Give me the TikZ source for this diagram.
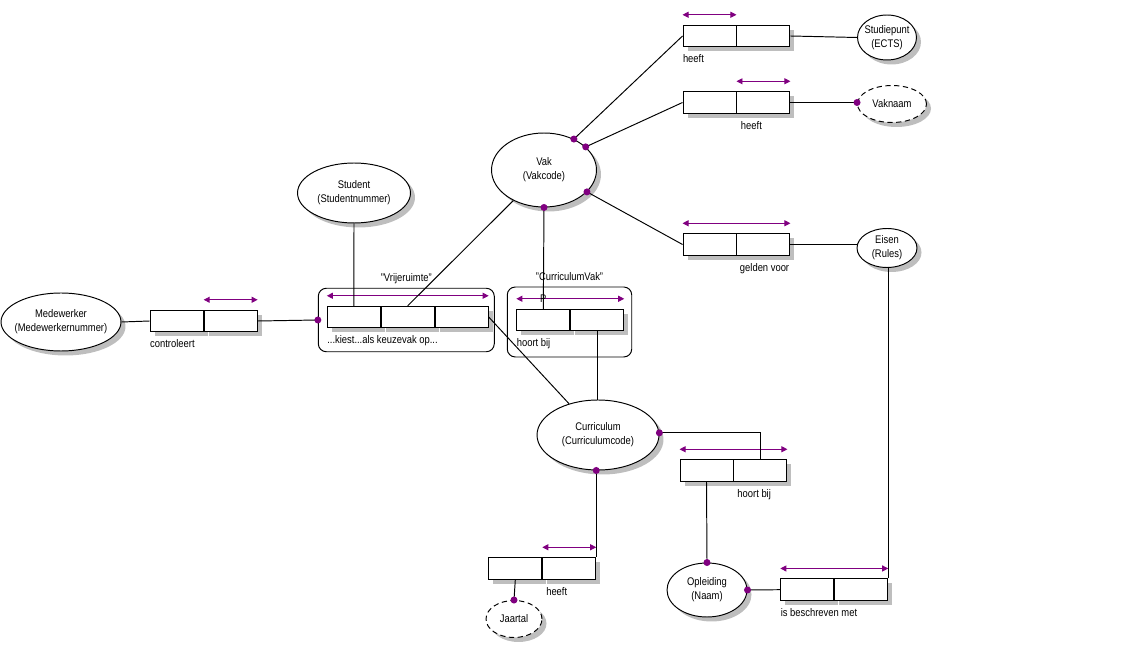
\documentclass[tikz,border=0pt]{standalone}
\usepackage{fontspec}
\setmainfont{Liberation Sans}[FakeStretch=0.85]
\usepackage{xcolor}
\usepackage{tikz}
\usetikzlibrary{positioning,shapes.geometric,shadows,arrows.meta}
\definecolor{paars}{HTML}{800080}
\definecolor{schaduw}{HTML}{BEBEBE}
\newcommand{\ormfont}{\fontsize{6.3}{8}\selectfont}
\tikzset{
  schaduw/.style={drop shadow={shadow xshift=0.09cm, shadow yshift=-0.09cm, fill=schaduw, opacity=1}},
  entiteit/.style={ellipse, draw, fill=white, schaduw, align=center, inner xsep=-0.25cm, inner ysep=0pt, font=\ormfont},
  waarde/.style={entiteit, dash pattern=on 3pt off 2pt},
  rol/.style={draw, fill=white, schaduw, minimum width=1.06cm, minimum height=0.43cm, inner sep=0pt},
  kader/.style={draw, rounded corners=0.16cm, inner sep=0pt},
  uniek/.style={paars, {Triangle[length=0.12cm,width=0.12cm]}-{Triangle[length=0.12cm,width=0.12cm]}},
  stip/.style={paars},
  tekst/.style={font=\ormfont, inner sep=0pt}
}

\begin{document}
\begin{tikzpicture}[x=0.02cm, y=-0.02cm, line width=0.55pt]
        \useasboundingbox (0,0) rectangle (1139,668);
        \def\hoog{0.2cm}
        \def\onder{0.31cm}
        % Entiteiten
        \node[entiteit, minimum width=2.4cm, minimum height=1.16cm] (medewerker) at (61,322) {Medewerker\\(Medewerkernummer)};
        \node[entiteit, minimum width=2.26cm, minimum height=1.2cm] (student) at (354,193) {Student\\(Studentnummer)};
        \node[entiteit, minimum width=2.1cm, minimum height=1.48cm] (vak) at (544,170) {Vak\\(Vakcode)};
        \node[entiteit, minimum width=1.18cm, minimum height=0.9cm] (studiepunt) at (887,37.5) {Studiepunt\\(ECTS)};
        \node[waarde, minimum width=1.38cm, minimum height=0.74cm] (vaknaam) at (892,104) {Vaknaam};
        \node[entiteit, minimum width=1.2cm, minimum height=0.78cm] (eisen) at (887,248) {Eisen\\(Rules)};
        \node[entiteit, minimum width=2.44cm, minimum height=1.4cm] (curriculum) at (598,435) {Curriculum\\(Curriculumcode)};
        \node[entiteit, minimum width=1.6cm, minimum height=1.08cm] (opleiding) at (707,590) {Opleiding\\(Naam)};
        \node[waarde, minimum width=1.12cm, minimum height=0.74cm] (jaartal) at (514,619) {Jaartal};

        % Objectificaties
        \node[kader, minimum width=3.52cm, minimum height=1.27cm] (vrij) at (406.3,320) {};
        \node[tekst, anchor=base] (lvrij) at ([yshift=0.12cm]vrij.north) {"Vrijeruimte"};
        \node[kader, minimum width=2.49cm, minimum height=1.4cm] (cvk) at (569.5,322) {};
        \node[tekst, anchor=base] (lcvk) at ([yshift=0.12cm]cvk.north) {"CurriculumVak"};

        % Feittypen (rollen)
        \node[rol] (c1) at (176.7,321) {};
        \node[rol, right=0pt of c1] (c2) {};
        \node[rol] (h11) at (709.5,36) {};
        \node[rol, right=0pt of h11] (h12) {};
        \node[rol] (h21) at (709.5,102.5) {};
        \node[rol, right=0pt of h21] (h22) {};
        \node[rol] (g1) at (709.5,244.5) {};
        \node[rol, right=0pt of g1] (g2) {};
        \node[rol] (vr1) at (353.8,317) {};
        \node[rol, right=0pt of vr1] (vr2) {};
        \node[rol, right=0pt of vr2] (vr3) {};
        \node[rol] (cv1) at (543.3,320) {};
        \node[rol, right=0pt of cv1] (cv2) {};
        \node[rol] (hb1) at (706.5,470.5) {};
        \node[rol, right=0pt of hb1] (hb2) {};
        \node[rol] (jh1) at (515.3,568.5) {};
        \node[rol, right=0pt of jh1] (jh2) {};
        \node[rol] (bm1) at (807.3,589.7) {};
        \node[rol, right=0pt of bm1] (bm2) {};

        % Namen van de feittypen
        \node[tekst, anchor=base west] (lc) at ([yshift=-\onder]c1.south west) {controleert};
        \node[tekst, anchor=base west] (lh1) at ([yshift=-\onder]h11.south west) {heeft};
        \node[tekst, anchor=base west] (lh2) at ([xshift=0.08cm, yshift=-\onder]h22.south west) {heeft};
        \node[tekst, anchor=base west] (lg) at ([xshift=0.06cm, yshift=-\onder]g2.south west) {gelden voor};
        \node[tekst, anchor=base west] (lvr) at ([yshift=-\onder]vr1.south west) {...kiest...als keuzevak op...};
        \node[tekst, anchor=base west] (lcv) at ([yshift=-\onder]cv1.south west) {hoort bij};
        \node[tekst, anchor=base west] (lhb) at ([xshift=0.07cm, yshift=-\onder]hb2.south west) {hoort bij};
        \node[tekst, anchor=base west] (ljh) at ([xshift=0.07cm, yshift=-\onder]jh2.south west) {heeft};
        \node[tekst, anchor=base west] (lbm) at ([yshift=-\onder]bm1.south west) {is beschreven met};

        % Uniciteitsregels
        \draw[uniek] ([yshift=\hoog]c2.north west) -- ([yshift=\hoog]c2.north east);
        \draw[uniek] ([yshift=\hoog]h11.north west) -- ([yshift=\hoog]h11.north east);
        \draw[uniek] ([yshift=\hoog]h22.north west) -- ([yshift=\hoog]h22.north east);
        \draw[uniek] ([yshift=\hoog]g1.north west) -- ([yshift=\hoog]g2.north east);
        \draw[uniek] ([yshift=\hoog]vr1.north west) -- ([yshift=\hoog]vr3.north east);
        \draw[uniek] ([yshift=\hoog]cv1.north west) -- ([yshift=\hoog]cv2.north east);
        \draw[uniek] ([yshift=\hoog]hb1.north west) -- ([yshift=\hoog]hb2.north east);
        \draw[uniek] ([yshift=\hoog]jh2.north west) -- ([yshift=\hoog]jh2.north east);
        \draw[uniek] ([yshift=\hoog]bm1.north west) -- ([yshift=\hoog]bm2.north east);

        % Verbindingen
        \draw (medewerker.east) -- (c1.west);
        \draw (c2.east) -- (vrij.west);
        \draw (student.south) -- (vr1.north);
        \draw (vr2.north) -- (vak);
        \draw (vr3.east) -- (curriculum);
        \draw (vak.south) -- (cv1.north);
        \draw (cv2.south) -- (cv2.south |- curriculum.north);
        \draw (vak.46) -- (h11.west);
        \draw (vak.29) -- (h21.west);
        \draw (vak.-27) -- (g1.west);
        \draw (h12.east) -- (studiepunt.west);
        \draw (h22.east) -- (h22.east -| vaknaam.west);
        \draw (g2.east) -- (g2.east -| eisen.west);
        \draw (bm2.north east) -- (bm2.north east |- eisen.south);
        \draw (curriculum.2) -| (hb2.north);
        \draw (hb1.south) -- (opleiding.north);
        \draw (opleiding.east) -- (bm1.west);
        \draw (curriculum.south -| jh2.north east) -- (jh2.north east);
        \draw (jh1.south) -- (jaartal.north);

        % Totaliteitsregels
        \fill[stip] (vrij.west) circle (0.07cm);
        \fill[stip] (vak.south) circle (0.07cm);
        \fill[stip] (vak.46) circle (0.07cm);
        \fill[stip] (vak.29) circle (0.07cm);
        \fill[stip] (vak.-27) circle (0.07cm);
        \fill[stip] (h22.east -| vaknaam.west) circle (0.07cm);
        \fill[stip] (curriculum.2) circle (0.07cm);
        \fill[stip] (curriculum.south -| jh2.north east) circle (0.07cm);
        \fill[stip] (opleiding.north) circle (0.07cm);
        \fill[stip] (opleiding.east) circle (0.07cm);
        \fill[stip] (jaartal.north) circle (0.07cm);

        \node[tekst] (pmerk) at ([yshift=\hoog]cv1.north) {P};
    \end{tikzpicture}
\end{document}
